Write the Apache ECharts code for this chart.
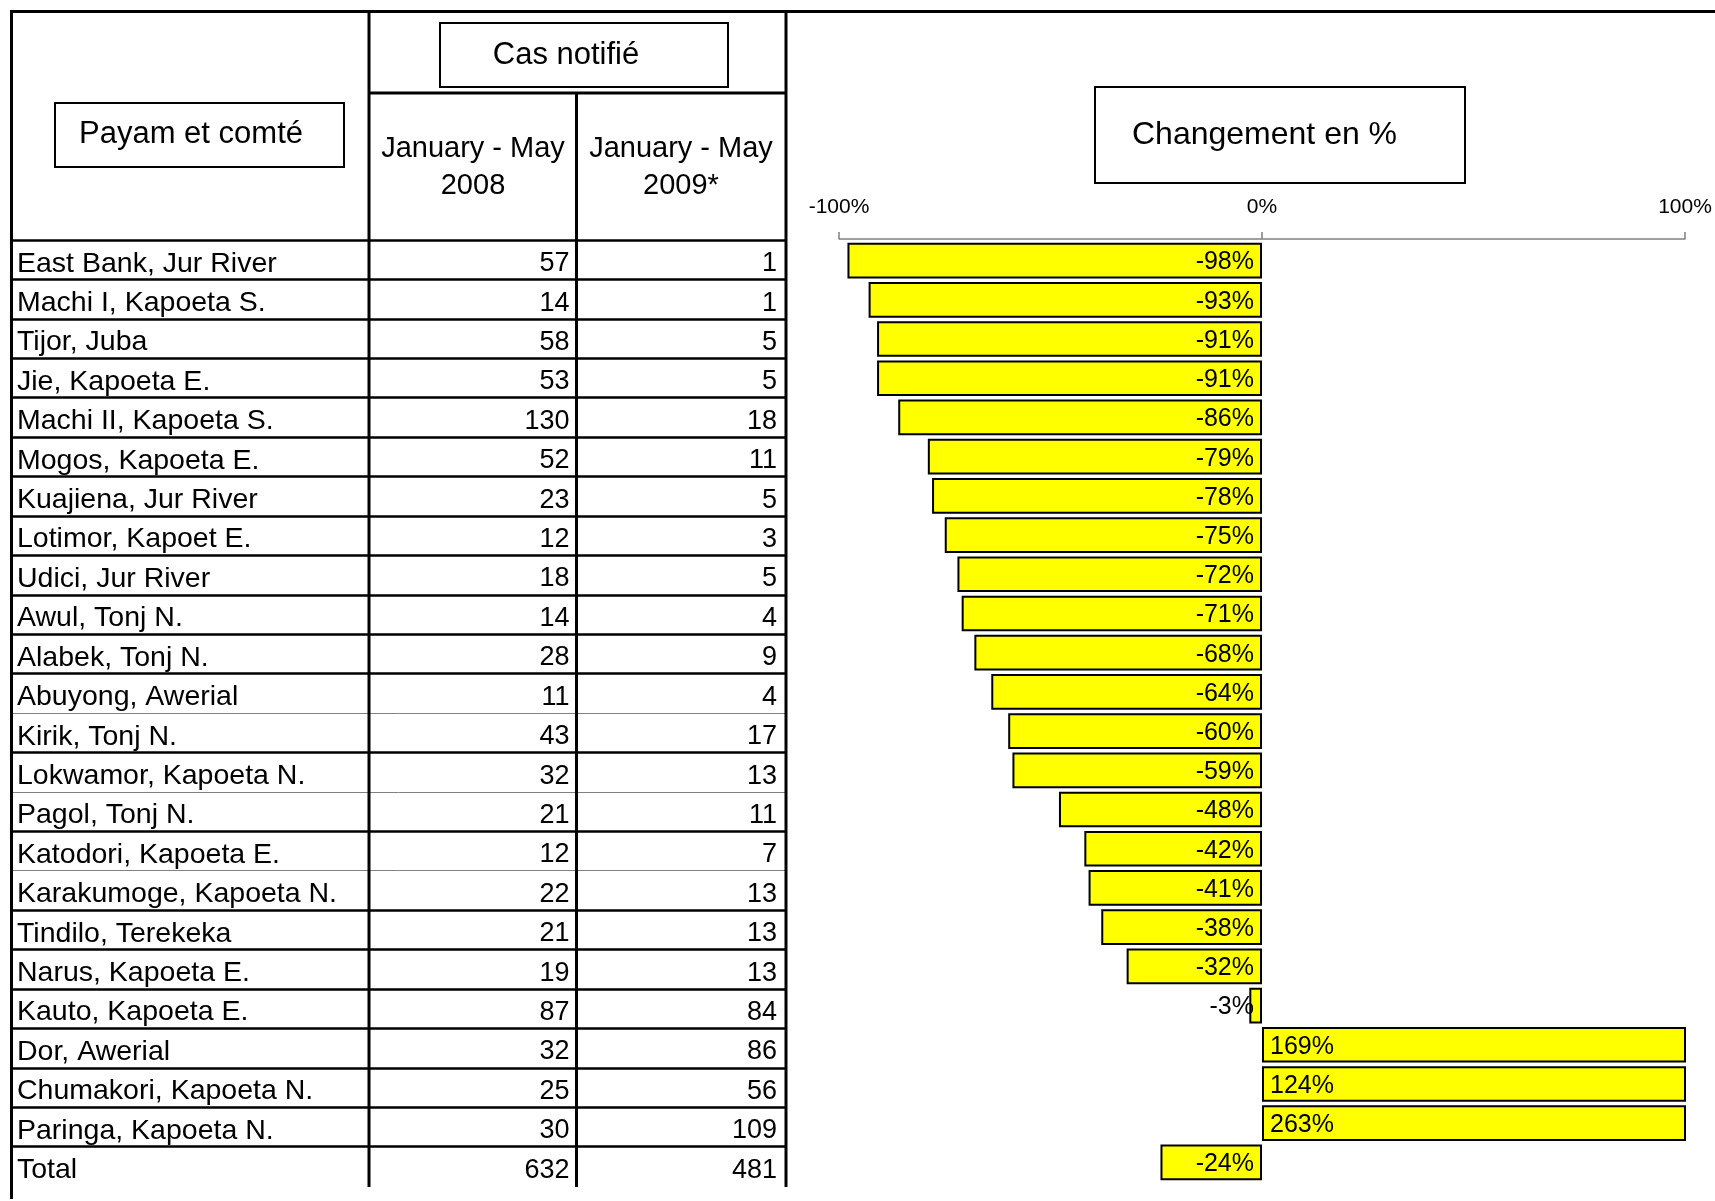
<!DOCTYPE html>
<html><head><meta charset="utf-8">
<script src="https://cdn.jsdelivr.net/npm/echarts@6/dist/echarts.min.js"></script>
<style>html,body{margin:0;padding:0;background:#fff}#c{width:1715px;height:1201px}</style>
</head><body><div id="c"></div>
<script>
const payams = [
  'East Bank, Jur River','Machi I, Kapoeta S.','Tijor, Juba','Jie, Kapoeta E.','Machi II, Kapoeta S.',
  'Mogos, Kapoeta E.','Kuajiena, Jur River','Lotimor, Kapoet E.','Udici, Jur River','Awul, Tonj N.',
  'Alabek, Tonj N.','Abuyong, Awerial','Kirik, Tonj N.','Lokwamor, Kapoeta N.','Pagol, Tonj N.',
  'Katodori, Kapoeta E.','Karakumoge, Kapoeta N.','Tindilo, Terekeka','Narus, Kapoeta E.','Kauto, Kapoeta E.',
  'Dor, Awerial','Chumakori, Kapoeta N.','Paringa, Kapoeta N.','Total'
];
const cases2008 = [57,14,58,53,130,52,23,12,18,14,28,11,43,32,21,12,22,21,19,87,32,25,30,632];
const cases2009 = [1,1,5,5,18,11,5,3,5,4,9,4,17,13,11,7,13,13,13,84,86,56,109,481];
const pctChange = [-98,-93,-91,-91,-86,-79,-78,-75,-72,-71,-68,-64,-60,-59,-48,-42,-41,-38,-32,-3,169,124,263,-24];
const thinRowLines = [12,14,16];
const axisMin = -100, axisMax = 100, axisStep = 100;

const FONT = "'Liberation Sans', Arial, Helvetica, sans-serif";
const chart = echarts.init(document.getElementById('c'));

const line = (x1,y1,x2,y2,w) => ({type:'line', shape:{x1,y1,x2,y2}, style:{stroke:'#000', lineWidth:w}, z:10});
const txt = (t,x,y,size,align) => ({type:'text', x, y, style:{text:t, fill:'#000', font: size+'px '+FONT, textAlign: align||'center', textVerticalAlign:'middle'}, z:10});
const box = (x,y,w,h) => ({type:'rect', shape:{x,y,width:w,height:h}, style:{fill:'#fff', stroke:'#000', lineWidth:2}, z:9});

const cellLabel = {inside: true, interval: 0, fontSize: 27, color: '#000', fontFamily: FONT, verticalAlign: 'top', lineHeight: 8};

chart.setOption({
  animation: false,
  backgroundColor: '#fff',
  textStyle: {fontFamily: FONT},
  grid: [
    {left: 11, top: 240, width: 775, height: 946},
    {left: 839, top: 241, width: 846, height: 941}
  ],
  xAxis: [
    {gridIndex: 0, type: 'value', min: 0, max: 1, show: false},
    {gridIndex: 1, type: 'value', min: axisMin, max: axisMax, interval: axisStep, position: 'top', offset: 2,
     axisLine: {show: true, onZero: false, lineStyle: {color: '#808080', width: 1.5}},
     axisTick: {show: true, length: 7, lineStyle: {color: '#808080', width: 1.5}},
     axisLabel: {formatter: '{value}%', fontSize: 21, color: '#000', margin: 21, fontFamily: FONT},
     splitLine: {show: false}}
  ],
  yAxis: [
    {gridIndex: 0, type: 'category', data: payams, inverse: true, position: 'left', z: 1,
     axisLine: {show: false}, axisTick: {show: false},
     axisLabel: Object.assign({}, cellLabel, {margin: 6, fontSize: 28.5}),
     splitLine: {show: true, interval: 0, showMinLine: true, showMaxLine: false, lineStyle: {color: '#808080', width: 1}}},
    {gridIndex: 0, type: 'category', data: payams, inverse: true, position: 'right', offset: -209.5,
     axisLine: {show: false}, axisTick: {show: false}, splitLine: {show: false},
     axisLabel: Object.assign({}, cellLabel, {margin: 7, formatter: (v, i) => String(cases2008[i])})},
    {gridIndex: 0, type: 'category', data: payams, inverse: true, position: 'right', offset: 0,
     axisLine: {show: false}, axisTick: {show: false}, splitLine: {show: false},
     axisLabel: Object.assign({}, cellLabel, {margin: 9, formatter: (v, i) => String(cases2009[i])})},
    {gridIndex: 0, type: 'category', data: payams, inverse: true, position: 'left', z: 2,
     axisLine: {show: false}, axisTick: {show: false}, axisLabel: {show: false},
     splitLine: {show: true, interval: (i) => thinRowLines.indexOf(i) < 0, showMinLine: true, showMaxLine: false,
       lineStyle: {color: '#000', width: 2.5}}},
    {gridIndex: 1, type: 'category', data: payams, inverse: true, show: false}
  ],
  series: [{
    type: 'bar', xAxisIndex: 1, yAxisIndex: 4,
    barCategoryGap: '9%',
    data: pctChange.map(v => ({value: v, label: {position: v < 0 ? 'insideRight' : 'insideLeft'}})),
    itemStyle: {color: '#ffff00', borderColor: '#000', borderWidth: 2},
    label: {show: true, formatter: '{c}%', fontSize: 25, color: '#000', distance: 8, fontFamily: FONT,
      verticalAlign: 'top', lineHeight: 4}
  }],
  graphic: [
    line(11, 11.5, 1715, 11.5, 3),
    line(11.5, 10, 11.5, 1199, 3),
    line(369, 10, 369, 1187, 3),
    line(576.5, 93, 576.5, 1187, 3),
    line(786, 10, 786, 1187, 3),
    line(369, 93, 786, 93, 3),
    box(440, 23, 288, 64),
    txt('Cas notifié', 566, 55, 31),
    box(55, 103, 289, 64),
    txt('Payam et comté', 191, 134, 31),
    txt('January - May', 473, 149, 29),
    txt('2008', 473, 186, 29),
    txt('January - May', 681, 149, 29),
    txt('2009*', 681, 186, 29),
    box(1095, 87, 370, 96),
    txt('Changement en %', 1132, 135, 32, 'left')
  ]
});
</script>
</body></html>
